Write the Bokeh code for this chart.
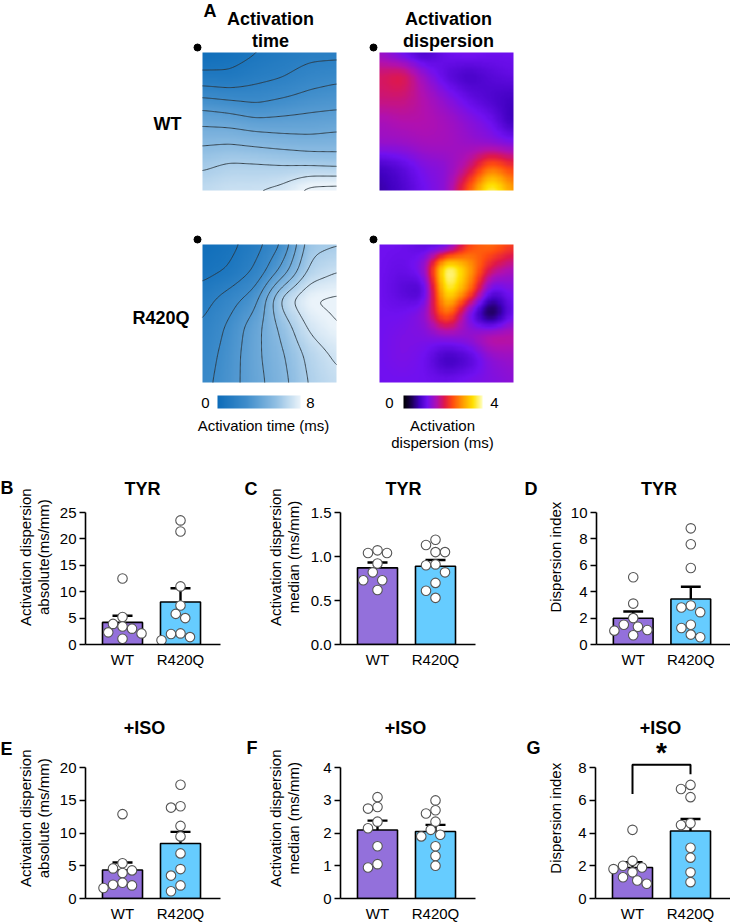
import numpy as np
from bokeh.plotting import figure
from bokeh.layouts import column, row
from bokeh.models import Range1d, LinearColorMapper, Label, FixedTicker, PrintfTickFormatter
from bokeh.embed import file_html
from bokeh.resources import INLINE

FONT = "Liberation Sans"

# ---------------------------------------------------------------------------
# Optical-mapping maps: coarse grids (rows top -> bottom, columns left -> right)
# ---------------------------------------------------------------------------
wt_activation_time = [
    [0.10, 0.40, 0.85, 1.20, 1.50, 1.50],
    [1.35, 1.20, 1.60, 1.85, 2.34, 2.59],
    [3.49, 3.26, 2.90, 3.17, 3.40, 3.51],
    [4.99, 4.98, 4.75, 4.58, 4.50, 4.64],
    [6.04, 6.35, 6.30, 6.18, 6.03, 5.91],
    [6.90, 7.20, 7.20, 7.50, 8.50, 8.60],
]
r420q_activation_time = [
    [0.20, 0.60, 1.40, 2.80, 6.00, 6.20],
    [0.60, 1.00, 2.00, 4.00, 6.60, 7.20],
    [1.40, 2.30, 3.30, 6.80, 8.20, 8.30],
    [1.90, 2.90, 4.20, 5.70, 7.40, 8.10],
    [2.20, 3.10, 4.30, 5.30, 6.60, 7.40],
    [2.40, 3.20, 4.20, 5.10, 6.40, 7.00],
]
wt_dispersion = [
    [1.5, 1.1, 0.8, 1.2, 1.3, 1.2, 1.2],
    [2.0, 2.2, 1.5, 1.0, 0.8, 1.0, 1.1],
    [1.9, 1.9, 1.7, 1.4, 1.1, 0.9, 0.8],
    [1.6, 1.7, 1.7, 1.6, 1.4, 1.2, 0.7],
    [1.5, 1.5, 1.6, 1.6, 1.5, 1.4, 1.3],
    [0.8, 1.0, 1.3, 1.4, 1.8, 2.8, 2.3],
    [0.7, 0.9, 1.2, 1.4, 2.6, 4.0, 3.0],
]
r420q_dispersion = [
    [1.2, 1.2, 1.0, 0.8, 2.4, 2.8, 2.4],
    [1.2, 1.1, 1.4, 4.3, 3.2, 2.0, 1.6],
    [1.2, 1.0, 0.8, 3.9, 2.9, 1.0, 1.3],
    [1.2, 1.2, 1.4, 3.0, 1.2, 0.0, 1.2],
    [1.2, 1.3, 1.3, 1.4, 1.5, 1.9, 1.8],
    [1.2, 1.3, 1.2, 0.7, 0.9, 1.4, 1.5],
    [1.2, 1.2, 1.2, 1.2, 1.3, 1.3, 1.4],
]
isochrone_levels = [0.9, 1.8, 2.7, 3.6, 4.5, 5.4, 6.3, 7.2, 8.1]
time_scale = [0, 8]
dispersion_scale = [0, 4]

# ---------------------------------------------------------------------------
# Per-heart values for the bar charts
# ---------------------------------------------------------------------------
groups = ["WT", "R420Q"]
group_colors = ["#9370DB", "#66CCFF"]

tyr_absolute_wt = [12.5, 5.2, 3.9, 3.4, 3.0, 2.3, 2.1, 1.1]
tyr_absolute_r420q = [23.5, 21.4, 11.0, 7.4, 5.8, 5.0, 2.1, 2.0, 1.4, 0.8]
tyr_median_wt = [1.07, 1.04, 1.04, 0.92, 0.82, 0.73, 0.73, 0.62]
tyr_median_r420q = [1.19, 1.13, 1.05, 1.05, 0.91, 0.90, 0.82, 0.70, 0.61, 0.53]
tyr_index_wt = [5.1, 3.1, 2.0, 1.5, 1.35, 1.1, 1.05, 0.7]
tyr_index_r420q = [8.8, 7.6, 5.8, 2.95, 2.8, 2.45, 1.5, 1.25, 0.75, 0.55]

iso_absolute_wt = [12.9, 5.4, 4.6, 4.3, 3.9, 2.4, 2.1, 2.0, 1.6]
iso_absolute_r420q = [17.4, 14.1, 13.9, 11.1, 9.5, 6.9, 4.5, 3.5, 2.0, 1.1]
iso_median_wt = [3.1, 2.8, 2.75, 2.35, 2.15, 1.6, 1.05, 0.95]
iso_median_r420q = [3.0, 2.7, 2.6, 2.35, 2.1, 1.95, 1.9, 1.6, 1.3, 1.0]
iso_index_wt = [4.2, 2.3, 2.0, 1.9, 1.8, 1.6, 1.3, 1.1, 0.9]
iso_index_r420q = [6.95, 6.7, 6.2, 4.6, 4.5, 3.1, 2.5, 1.6, 1.0]

absolute_tyr_ticks = [0, 5, 10, 15, 20, 25]
median_tyr_ticks = [0, 0.5, 1.0, 1.5]
index_tyr_ticks = [0, 2, 4, 6, 8, 10]
absolute_iso_ticks = [0, 5, 10, 15, 20]
median_iso_ticks = [0, 1, 2, 3, 4]
index_iso_ticks = [0, 2, 4, 6, 8]


# ---------------------------------------------------------------------------
# helpers
# ---------------------------------------------------------------------------
def hex_ramp(stops, n=256):
    pos = np.array([s for s, _ in stops])
    rgb = np.array([[int(c[i:i + 2], 16) for i in (1, 3, 5)] for _, c in stops], float)
    t = np.linspace(0, 1, n)
    ch = [np.interp(t, pos, rgb[:, k]) for k in range(3)]
    return ["#%02x%02x%02x" % (int(round(ch[0][j])), int(round(ch[1][j])), int(round(ch[2][j])))
            for j in range(n)]


def smooth_map(rows, n=120, sigma=5.0):
    """Bilinear resampling of a coarse grid followed by a light gaussian blur.
    Returned array has its first row at the bottom (image orientation)."""
    a = np.flipud(np.asarray(rows, float))
    ny, nx = a.shape
    gx = np.linspace(0, nx - 1, n)
    gy = np.linspace(0, ny - 1, n)
    tmp = np.array([np.interp(gx, np.arange(nx), r) for r in a])
    out = np.array([np.interp(gy, np.arange(ny), c) for c in tmp.T]).T
    rad = int(3 * sigma)
    k = np.exp(-0.5 * (np.arange(-rad, rad + 1) / sigma) ** 2)
    k /= k.sum()
    pad = np.pad(out, rad, mode="edge")
    out = np.apply_along_axis(lambda r: np.convolve(r, k, "valid"), 1, pad)
    out = np.apply_along_axis(lambda c: np.convolve(c, k, "valid"), 0, out)
    return out


def add_label(p, x, y, text, size=15, bold=False, align="center", baseline="middle", angle=0.0):
    p.add_layout(Label(x=x, y=y, text=text, text_font=FONT, text_font_size=f"{size}px",
                       text_font_style="bold" if bold else "normal", text_color="black",
                       text_align=align, text_baseline=baseline, angle=angle))


def blank_figure(x_left, x_right, y_top, y_bottom):
    """Axis-free canvas whose data units are page pixels (y stored as -pixel)."""
    p = figure(width=x_right - x_left, height=y_bottom - y_top,
               x_range=Range1d(x_left, x_right), y_range=Range1d(-y_bottom, -y_top),
               output_backend="svg", toolbar_location=None, min_border=0,
               x_axis_location=None, y_axis_location=None, outline_line_color=None)
    p.grid.visible = False
    return p


time_palette = hex_ramp([(0.0, "#0d6cb9"), (0.35, "#3f8dcb"), (0.7, "#8fbee3"), (1.0, "#eaf3fa")])
fire_palette = hex_ramp([(0.0, "#000000"), (0.1, "#1a0050"), (0.2, "#4000c0"), (0.3, "#7010f0"),
                         (0.42, "#b010b0"), (0.52, "#e01848"), (0.62, "#ff4a10"), (0.75, "#ff9a00"),
                         (0.88, "#ffe000"), (1.0, "#ffffc0")])
time_mapper = LinearColorMapper(palette=time_palette, low=time_scale[0], high=time_scale[1])
fire_mapper = LinearColorMapper(palette=fire_palette, low=dispersion_scale[0], high=dispersion_scale[1])

# ---------------------------------------------------------------------------
# Panel A: activation-time and dispersion maps
# ---------------------------------------------------------------------------
A_H = 456
pa = blank_figure(0, 730, 0, A_H)

MAP_W, MAP_H = 134, 138
TIME_X, DISP_X = 202, 379
for top, t_rows, d_rows in [(52, wt_activation_time, wt_dispersion),
                            (244, r420q_activation_time, r420q_dispersion)]:
    t = smooth_map(t_rows)
    pa.image(image=[t], x=TIME_X, y=-(top + MAP_H), dw=MAP_W, dh=MAP_H, color_mapper=time_mapper)
    n = t.shape[0]
    pa.contour(x=np.linspace(TIME_X, TIME_X + MAP_W, n), y=np.linspace(-(top + MAP_H), -top, n),
               z=t, levels=isochrone_levels, line_color="#2d3840", line_width=0.9)
    d = smooth_map(d_rows)
    pa.image(image=[d], x=DISP_X, y=-(top + MAP_H), dw=MAP_W, dh=MAP_H, color_mapper=fire_mapper)
    # pacing-site markers
    pa.scatter(x=[TIME_X - 5, DISP_X - 6], y=[-(top - 5), -(top - 5)], size=7, color="black")

# colour bars
pa.image(image=[np.linspace(time_scale[0], time_scale[1], 256)[None, :]], x=217, y=-408, dw=83, dh=13,
         color_mapper=time_mapper)
pa.image(image=[np.linspace(dispersion_scale[0], dispersion_scale[1], 256)[None, :]], x=403, y=-408,
         dw=79, dh=13, color_mapper=fire_mapper)

add_label(pa, 203, -10, "A", size=18, bold=True, align="left")
add_label(pa, 270, -18, "Activation", size=18, bold=True)
add_label(pa, 270, -40, "time", size=18, bold=True)
add_label(pa, 448, -18, "Activation", size=18, bold=True)
add_label(pa, 448, -40, "dispersion", size=18, bold=True)
add_label(pa, 181, -123, "WT", size=18, bold=True, align="right")
add_label(pa, 189, -317, "R420Q", size=18, bold=True, align="right")
add_label(pa, 205, -402, str(time_scale[0]))
add_label(pa, 310, -402, str(time_scale[1]))
add_label(pa, 263, -425, "Activation time (ms)")
add_label(pa, 389, -402, str(dispersion_scale[0]))
add_label(pa, 494, -402, str(dispersion_scale[1]))
add_label(pa, 442, -425, "Activation")
add_label(pa, 442, -442, "dispersion (ms)")

# ---------------------------------------------------------------------------
# Bar charts (mean + SEM with individual hearts)
# ---------------------------------------------------------------------------
PX_PER_GROUP = 58.0
FIRST_OFFSET = 37.0
FRAME_W = 135
FRAME_H = 132
BAR_W = 0.69
DOT = 9.5


def swarm(vals, ky):
    vals = np.asarray(vals, float)
    cand = np.arange(-3 * DOT, 3 * DOT + 0.1, DOT / 2)
    cand = cand[np.argsort(np.abs(cand), kind="stable")]
    placed, offs = [], np.zeros(len(vals))
    for i in np.argsort(-vals, kind="stable"):
        py = vals[i] * ky
        for ox in cand:
            if all((ox - qx) ** 2 + (py - qy) ** 2 >= (DOT * 0.98) ** 2 for qx, qy in placed):
                break
        placed.append((ox, py))
        offs[i] = ox
    return offs / PX_PER_GROUP


def bar_chart(fig_left, fig_right, fig_top, fig_bottom, frame_left, zero_y, ticks, wt, mut,
              title, title_pos, fmt=None, bracket=None):
    """Frame runs from the top of the figure down to the zero line; the axis
    line itself is bounded to the tick range so the title fits inside."""
    ymax = ticks[-1]
    ky = FRAME_H / ymax
    x0 = -FIRST_OFFSET / PX_PER_GROUP
    x1 = x0 + FRAME_W / PX_PER_GROUP
    y1 = (zero_y - fig_top) / ky
    p = figure(width=fig_right - fig_left, height=fig_bottom - fig_top,
               x_range=Range1d(x0, x1), y_range=Range1d(0, y1),
               output_backend="svg", toolbar_location=None, outline_line_color=None,
               min_border_left=frame_left - fig_left,
               min_border_right=fig_right - frame_left - FRAME_W,
               min_border_top=0, min_border_bottom=fig_bottom - zero_y)
    p.grid.visible = False

    def dx(ax_):
        return x0 + (ax_ - frame_left) / PX_PER_GROUP

    def dy(ay):
        return (zero_y - ay) / ky

    ya = p.yaxis[0]
    ya.ticker = FixedTicker(ticks=ticks)
    ya.bounds = (0, ymax)
    if fmt:
        ya.formatter = PrintfTickFormatter(format=fmt)
    ya.minor_tick_line_color = None
    ya.major_tick_in = 0
    ya.major_tick_out = 6
    ya.major_label_standoff = 3
    for a in (p.xaxis[0], p.yaxis[0]):
        a.axis_line_width = 1.6
        a.axis_line_color = "black"
        a.major_tick_line_width = 1.6
        a.major_tick_line_color = "black"
        a.major_label_text_font = FONT
        a.major_label_text_font_size = "15px"
        a.major_label_text_color = "black"
    xa = p.xaxis[0]
    xa.ticker = FixedTicker(ticks=[0, 1])
    xa.major_label_overrides = {0: groups[0], 1: groups[1]}
    xa.major_tick_line_color = None
    xa.major_tick_out = 0
    xa.major_tick_in = 0
    xa.minor_tick_line_color = None
    xa.major_label_standoff = 6

    means = [float(np.mean(v)) for v in (wt, mut)]
    sems = [float(np.std(v, ddof=1) / np.sqrt(len(v))) for v in (wt, mut)]
    tops = [m + s for m, s in zip(means, sems)]
    p.vbar(x=[0, 1], top=means, width=BAR_W, fill_color=group_colors, line_color="black", line_width=1.6)
    p.segment(x0=[0, 1], y0=means, x1=[0, 1], y1=tops, line_color="black", line_width=2.4)
    cap = 10 / PX_PER_GROUP
    p.segment(x0=[-cap, 1 - cap], y0=tops, x1=[cap, 1 + cap], y1=tops, line_color="black", line_width=2.4)
    for gi, vals in enumerate((wt, mut)):
        xs = gi + swarm(vals, ky)
        p.scatter(x=xs, y=vals, size=DOT, fill_color="white", line_color="#555555", line_width=1.1)

    if bracket is not None:
        left_leg, height, right_leg = bracket
        p.line(x=[0, 0, 1, 1], y=[left_leg, height, height, right_leg], line_color="black", line_width=2)
        add_label(p, 0.5, dy(zero_y - height * ky - 12), "*", size=28, bold=True)

    add_label(p, dx(title_pos[0]), dy(title_pos[1]), title, size=18, bold=True)
    return p


def axis_title(x_left, x_right, y_top, y_bottom, zero_y, letter, letter_pos, lines, line_xs):
    p = blank_figure(x_left, x_right, y_top, y_bottom)
    add_label(p, letter_pos[0], -letter_pos[1], letter, size=18, bold=True, align="left")
    for text, lx in zip(lines, line_xs):
        add_label(p, lx, -(zero_y - FRAME_H / 2), text, angle=np.pi / 2)
    return p


TOP_Y0, TOP_Y1, TOP_ZERO = A_H, A_H + 228, 644
BOT_Y0, BOT_Y1, BOT_ZERO = A_H + 228, 924, 900

top_row = row(
    axis_title(0, 56, TOP_Y0, TOP_Y1, TOP_ZERO, "B", (0, 494),
               ["Activation dispersion", "absolute(ms/mm)"], [25, 43]),
    bar_chart(56, 240, TOP_Y0, TOP_Y1, 85, TOP_ZERO, absolute_tyr_ticks,
              tyr_absolute_wt, tyr_absolute_r420q, "TYR", (142, 488)),
    axis_title(240, 305, TOP_Y0, TOP_Y1, TOP_ZERO, "C", (244, 496),
               ["Activation dispersion", "median (ms/mm)"], [275, 293]),
    bar_chart(305, 485, TOP_Y0, TOP_Y1, 340, TOP_ZERO, median_tyr_ticks,
              tyr_median_wt, tyr_median_r420q, "TYR", (403, 488), fmt="%.1f"),
    axis_title(485, 567, TOP_Y0, TOP_Y1, TOP_ZERO, "D", (524, 495),
               ["Dispersion index"], [555]),
    bar_chart(567, 730, TOP_Y0, TOP_Y1, 595, TOP_ZERO, index_tyr_ticks,
              tyr_index_wt, tyr_index_r420q, "TYR", (658, 488)),
    spacing=0)

bottom_row = row(
    axis_title(0, 56, BOT_Y0, BOT_Y1, BOT_ZERO, "E", (0, 756),
               ["Activation dispersion", "absolute (ms/mm)"], [25, 43]),
    bar_chart(56, 240, BOT_Y0, BOT_Y1, 85, BOT_ZERO, absolute_iso_ticks,
              iso_absolute_wt, iso_absolute_r420q, "+ISO", (144, 728)),
    axis_title(240, 305, BOT_Y0, BOT_Y1, BOT_ZERO, "F", (246, 755),
               ["Activation dispersion", "median (ms/mm)"], [275, 293]),
    bar_chart(305, 485, BOT_Y0, BOT_Y1, 340, BOT_ZERO, median_iso_ticks,
              iso_median_wt, iso_median_r420q, "+ISO", (405, 728)),
    axis_title(485, 567, BOT_Y0, BOT_Y1, BOT_ZERO, "G", (526, 755),
               ["Dispersion index"], [555]),
    bar_chart(567, 730, BOT_Y0, BOT_Y1, 595, BOT_ZERO, index_iso_ticks,
              iso_index_wt, iso_index_r420q, "+ISO", (660, 728), bracket=(6.4, 8.18, 7.6)),
    spacing=0)

layout = column(pa, top_row, bottom_row, spacing=0)
open("out.html", "w").write(file_html(layout, INLINE))
